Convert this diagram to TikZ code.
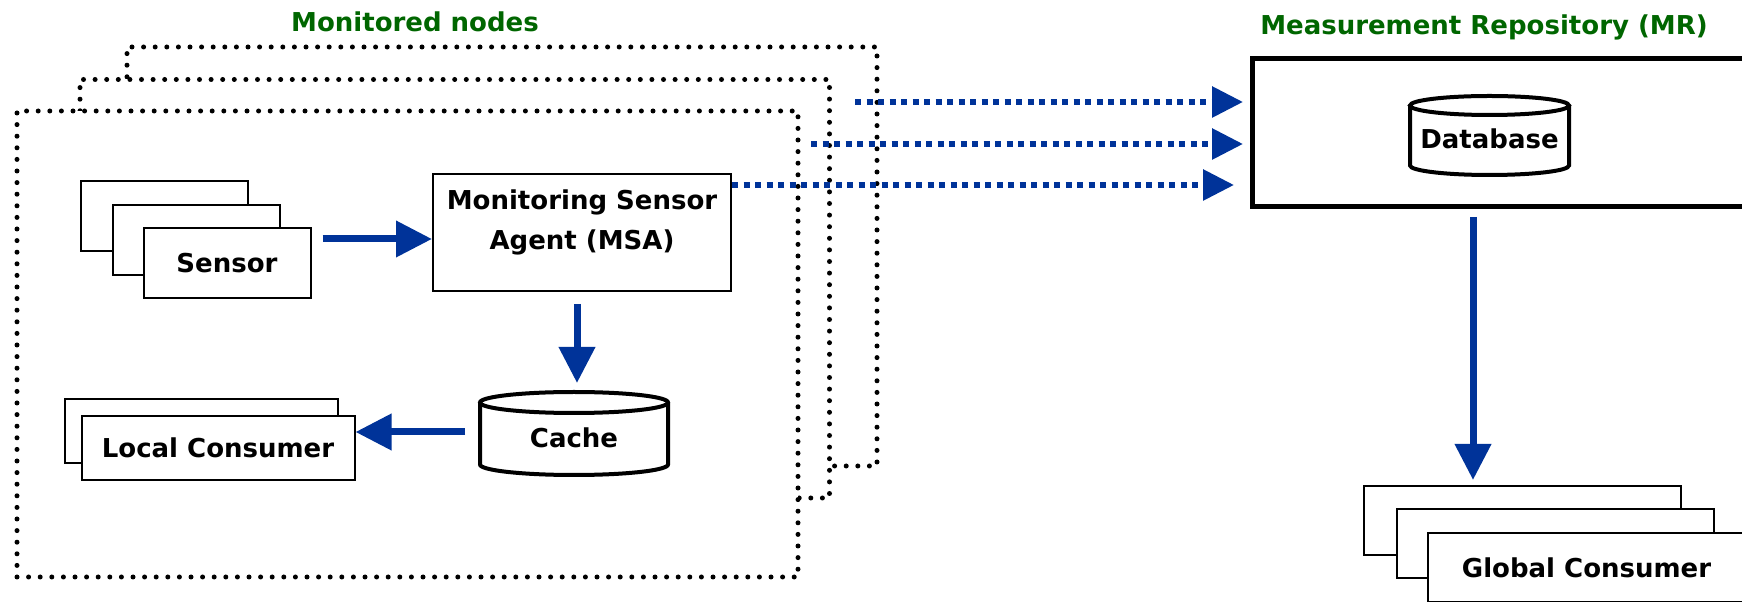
\documentclass[tikz,border=0pt]{standalone}
\usepackage{fontspec}
\setmainfont{DejaVu Sans}
\usetikzlibrary{arrows.meta}

\definecolor{arrowblue}{RGB}{0,51,153}
\definecolor{titlegreen}{RGB}{0,102,0}

\tikzset{
  lbl/.style={font=\fontsize{26}{40}\selectfont\bfseries},
  title/.style={lbl, text=titlegreen},
  monbox/.style={draw, fill=white, line width=5pt, line cap=round,
    dash pattern=on 0pt off 11.6pt, inner sep=0pt},
  card/.style={lbl, draw, fill=white, line width=2pt, inner sep=0pt},
  cyl/.style={draw, line width=4pt, fill=white},
  flow/.style={draw=arrowblue, line width=7pt,
    -{Triangle[length=36pt,width=35pt]}, arrowblue},
  report/.style={draw=arrowblue, line width=6pt, dash pattern=on 6pt off 5.5pt,
    -{Triangle[length=31pt,width=30pt]}, arrowblue},
}

\begin{document}
\begin{tikzpicture}[x=1pt, y=1pt]
  \useasboundingbox (0,0) rectangle (1742,602);

  % Titel
  \node[title] (montitle) at (415,580) {Monitored nodes};
  \node[title] (mrtitle) at (1484,575) {Measurement Repository (MR)};

  % Monitored nodes (hinten nach vorne)
  \node[monbox, minimum width=750pt, minimum height=419pt] (node3) at (502,345.5) {};
  \node[monbox, minimum width=749.5pt, minimum height=418.5pt] (node2) at (454.75,313.25) {};
  \node[monbox, minimum width=781pt, minimum height=466pt] (node1) at (407.5,258) {};

  % Sensoren
  \node[card, minimum width=167pt, minimum height=70pt] (sensor1) at (164,386) {};
  \node[card, minimum width=167pt, minimum height=70pt] (sensor2) at (196,362) {};
  \node[card, minimum width=167pt, minimum height=70pt] (sensor3) at (227,338.5) {Sensor};

  % MSA
  \node[card, minimum width=298pt, minimum height=117pt,
    label={[lbl, align=center, yshift=10pt]center:Monitoring Sensor\\Agent (MSA)}]
    (msa) at (582,369.5) {};

  % Cache
  \draw[cyl] (480,199.5) -- (480,137.5)
    arc[start angle=180, end angle=360, x radius=94, y radius=10.5] -- (668,199.5);
  \draw[cyl] (574,199.5) ellipse[x radius=94, y radius=10.5];
  \node[lbl] (cache) at (574,164) {Cache};
  \coordinate (cachetop) at (577,219);
  \coordinate (cacheleft) at (478,170);

  % Local Consumer
  \node[card, minimum width=273pt, minimum height=64pt] (local1) at (201.5,171) {};
  \node[card, minimum width=273pt, minimum height=64pt] (local2) at (218,154) {Local Consumer};

  % Measurement Repository
  \node[draw, line width=5pt, minimum width=500pt, minimum height=148pt] (mr) at (1502,469.5) {};
  \draw[cyl] (1410,496.5) -- (1410,436.5)
    arc[start angle=180, end angle=360, x radius=79.5, y radius=9.5] -- (1569,496.5);
  \draw[cyl] (1489.5,496.5) ellipse[x radius=79.5, y radius=9.5];
  \node[lbl] (db) at (1489.5,463) {Database};

  % Global Consumer
  \node[card, minimum width=317pt, minimum height=69pt] (global1) at (1522.5,81.5) {};
  \node[card, minimum width=317pt, minimum height=69pt] (global2) at (1555,58) {};
  \node[card, minimum width=317pt, minimum height=69pt] (global3) at (1586.5,34.5) {Global Consumer};

  % Pfeile
  \draw[flow] ([xshift=11pt]sensor3.east |- 0,363) -- (msa.west |- 0,363);
  \draw[flow] ([yshift=-12pt]msa.south -| cachetop) -- (cachetop);
  \draw[flow] ([xshift=-13pt]cacheleft) -- (local2.east |- cacheleft);
  \coordinate (mrout) at (1473,385);
  \coordinate (gcin) at (1473,122);
  \draw[flow] (mrout) -- (gcin);

  % Messdaten zum MR
  \coordinate (from3) at (855,500);
  \coordinate (from2) at (811,458);
  \draw[report, shorten >=6.5pt] (from3) -- (from3 -| mr.west);
  \draw[report, shorten >=6.5pt] (from2) -- (from2 -| mr.west);
  \draw[report, shorten >=15.5pt] (msa.east |- 0,417) -- (mr.west |- 0,417);
\end{tikzpicture}
\end{document}
